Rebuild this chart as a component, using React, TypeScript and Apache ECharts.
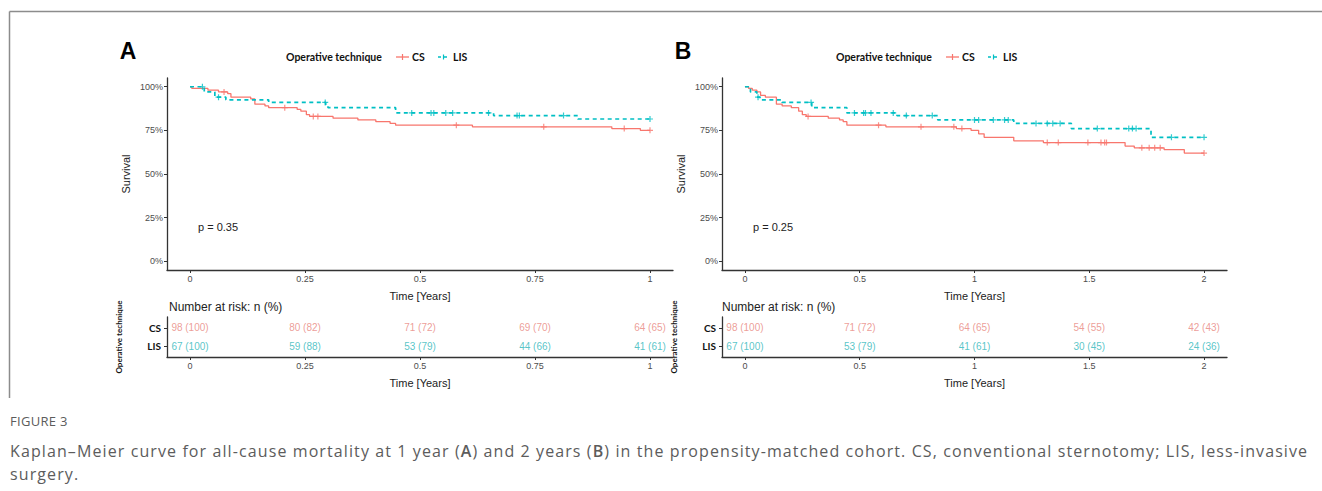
import React, { useEffect, useRef } from "react";
import * as echarts from "echarts";

// ---------- DATA ----------
// Panel A (1 year)
const csA_t = [0, 0.004, 0.039, 0.062, 0.082, 0.089, 0.132, 0.141, 0.163, 0.171, 0.233, 0.241, 0.253, 0.26, 0.311, 0.365, 0.404, 0.435, 0.447, 0.614, 0.917, 0.979, 1.0];
const csA_s = [1.0, 0.99, 0.98, 0.97, 0.96, 0.94, 0.93, 0.9, 0.89, 0.88, 0.87, 0.86, 0.84, 0.83, 0.82, 0.81, 0.8, 0.79, 0.78, 0.77, 0.76, 0.75, 0.75];
const csA_cens = [0.074, 0.206, 0.268, 0.278, 0.579, 0.769, 0.944, 1.0];
const lisA_t = [0, 0.031, 0.054, 0.078, 0.171, 0.295, 0.3, 0.447, 0.66, 0.843, 1.0];
const lisA_s = [1.0, 0.97, 0.94, 0.925, 0.91, 0.895, 0.88, 0.85, 0.835, 0.815, 0.815];
const lisA_cens = [0.027, 0.062, 0.294, 0.482, 0.524, 0.53, 0.556, 0.571, 0.649, 0.711, 0.716, 0.812, 1.0];

// Panel B (2 years)
const csB_t = [0, 0.016, 0.032, 0.052, 0.068, 0.089, 0.137, 0.162, 0.202, 0.234, 0.25, 0.267, 0.363, 0.412, 0.428, 0.444, 0.614, 0.921, 0.985, 1.018, 1.042, 1.171, 1.3, 1.656, 1.696, 1.826, 1.914, 2.0];
const csB_s = [1.0, 0.99, 0.98, 0.97, 0.95, 0.94, 0.9, 0.89, 0.88, 0.86, 0.84, 0.83, 0.82, 0.81, 0.8, 0.78, 0.77, 0.76, 0.75, 0.73, 0.71, 0.69, 0.68, 0.66, 0.65, 0.64, 0.62, 0.62];
const csB_cens = [0.275, 0.582, 0.767, 0.91, 0.945, 1.317, 1.365, 1.494, 1.551, 1.567, 1.575, 1.729, 1.761, 1.785, 1.809, 2.0];
const lisB_t = [0, 0.024, 0.052, 0.065, 0.162, 0.291, 0.444, 0.662, 0.84, 1.171, 1.422, 1.769, 2.0];
const lisB_s = [1.0, 0.97, 0.94, 0.925, 0.91, 0.88, 0.85, 0.835, 0.81, 0.79, 0.76, 0.71, 0.71];
const lisB_cens = [0.057, 0.288, 0.477, 0.517, 0.525, 0.549, 0.646, 0.703, 0.816, 1.0, 1.018, 1.082, 1.131, 1.147, 1.268, 1.317, 1.341, 1.373, 1.535, 1.672, 1.688, 1.704, 1.858, 2.0];

// Risk tables
const riskA_times = [0, 0.25, 0.5, 0.75, 1];
const riskA_cs = ["98 (100)", "80 (82)", "71 (72)", "69 (70)", "64 (65)"];
const riskA_lis = ["67 (100)", "59 (88)", "53 (79)", "44 (66)", "41 (61)"];
const riskB_times = [0, 0.5, 1, 1.5, 2];
const riskB_cs = ["98 (100)", "71 (72)", "64 (65)", "54 (55)", "42 (43)"];
const riskB_lis = ["67 (100)", "53 (79)", "41 (61)", "30 (45)", "24 (36)"];

const yTicks = [0, 0.25, 0.5, 0.75, 1];
const pValues = ["p = 0.35", "p = 0.25"];
const panelLetters = ["A", "B"];
const groups = ["CS", "LIS"];

const RED = "#F8766D";
const TEAL = "#00BFC4";
const RED_T = "#E8857D";
const TEAL_T = "#2DB6B9";
const AXIS = "#333333";
const TICKTXT = "#4d4d4d";
const PLUS = "path://M4,0H6V4H10V6H6V10H4V6H0V4H4Z";

function survAt(ts: number[], ss: number[], t: number) {
  let v = ss[0];
  for (let i = 0; i < ts.length; i++) if (ts[i] <= t) v = ss[i];
  return v;
}

function xAxisFor(grid: number, max: number, ticks: number[]) {
  const pad = max * 0.05;
  return {
    gridIndex: grid,
    type: "value",
    min: -pad,
    max: max + pad,
    axisLine: { show: true, onZero: false, lineStyle: { color: AXIS, width: 1.3 } },
    axisTick: { show: true, customValues: ticks, length: 3, lineStyle: { color: AXIS } },
    axisLabel: { customValues: ticks, formatter: (v: number) => String(v), fontSize: 9, color: TICKTXT, margin: 4, fontFamily: "Liberation Sans" },
    splitLine: { show: false },
    name: "Time [Years]",
    nameLocation: "middle",
    nameGap: 20,
    nameTextStyle: { fontSize: 11, color: "#222", fontFamily: "Liberation Sans" },
  };
}

function survYAxis(grid: number) {
  return {
    gridIndex: grid,
    type: "value",
    min: -0.05,
    max: 1.05,
    axisLine: { show: true, onZero: false, lineStyle: { color: AXIS, width: 1.3 } },
    axisTick: { show: true, customValues: yTicks, length: 3, lineStyle: { color: AXIS } },
    axisLabel: { customValues: yTicks, formatter: (v: number) => Math.round(v * 100) + "%", fontSize: 9, color: TICKTXT, margin: 4, fontFamily: "Liberation Sans" },
    splitLine: { show: false },
    name: "Survival",
    nameLocation: "middle",
    nameGap: 36,
    nameTextStyle: { fontSize: 11, color: "#222", fontFamily: "Liberation Sans" },
  };
}

function riskYAxis(grid: number) {
  return {
    gridIndex: grid,
    type: "value",
    min: 0.4,
    max: 2.6,
    axisLine: { show: true, onZero: false, lineStyle: { color: AXIS, width: 1.3 } },
    axisTick: { show: true, customValues: [1, 2], length: 3, lineStyle: { color: AXIS } },
    axisLabel: { customValues: [1, 2], formatter: (v: number) => (v === 2 ? groups[0] : groups[1]), fontSize: 10, fontWeight: "bold", color: "#111", margin: 6, fontFamily: "Lato" },
    splitLine: { show: false },
    name: "Operative technique",
    nameLocation: "middle",
    nameGap: 44,
    nameTextStyle: { fontSize: 8, fontWeight: "bold", color: "#111", fontFamily: "Lato" },
  };
}

function stepSeries(x: number, ts: number[], ss: number[], color: string, dashed: boolean) {
  return {
    type: "line",
    xAxisIndex: x,
    yAxisIndex: x,
    step: "end",
    symbol: "none",
    data: ts.map((t, i) => [t, ss[i]]),
    lineStyle: { color, width: dashed ? 1.7 : 1.3, type: dashed ? [4, 3.5] : "solid" },
    z: dashed ? 3 : 2,
  };
}

function censSeries(x: number, cens: number[], ts: number[], ss: number[], color: string) {
  return {
    type: "scatter",
    xAxisIndex: x,
    yAxisIndex: x,
    symbol: PLUS,
    symbolSize: 6,
    data: cens.map((t) => [t, survAt(ts, ss, t)]),
    itemStyle: { color },
    z: 4,
  };
}

function riskSeries(x: number, times: number[], labels: string[], row: number, color: string) {
  return {
    type: "scatter",
    xAxisIndex: x,
    yAxisIndex: x,
    symbolSize: 0,
    data: times.map((t, i) => [t, row, labels[i]]),
    label: {
      show: true,
      position: "inside",
      formatter: (p: any) => p.value[2],
      color,
      fontSize: 10,
      fontFamily: "Liberation Sans",
    },
  };
}

function legendGraphics(x0: number) {
  const y = 57;
  const txt = (x: number, s: string) => ({
    type: "text",
    x,
    y,
    style: { text: s, fontSize: 10.5, fontWeight: "bold", fill: "#111", fontFamily: "Lato", verticalAlign: "middle", textAlign: "left" },
  });
  return [
    txt(x0, "Operative technique"),
    { type: "line", shape: { x1: x0 + 110, y1: y, x2: x0 + 123, y2: y }, style: { stroke: RED, lineWidth: 1.3 } },
    { type: "line", shape: { x1: x0 + 116.5, y1: y - 3, x2: x0 + 116.5, y2: y + 3 }, style: { stroke: RED, lineWidth: 1.2 } },
    txt(x0 + 126, groups[0]),
    { type: "line", shape: { x1: x0 + 152, y1: y, x2: x0 + 163, y2: y }, style: { stroke: TEAL, lineWidth: 1.7, lineDash: [3, 3] } },
    { type: "line", shape: { x1: x0 + 157.5, y1: y - 2.5, x2: x0 + 157.5, y2: y + 2.5 }, style: { stroke: TEAL, lineWidth: 1.2 } },
    txt(x0 + 167, groups[1]),
  ];
}

const captionStyle: React.CSSProperties = {
  position: "absolute",
  left: 10,
  fontFamily: "'Open Sans', sans-serif",
  color: "#5c5c5c",
  whiteSpace: "nowrap",
  margin: 0,
};

export default function App() {
  const ref = useRef<HTMLDivElement>(null);
  useEffect(() => {
    if (!ref.current) return;
    const chart = echarts.init(ref.current, null, { renderer: "svg" });
    const option: any = {
      animation: false,
      backgroundColor: "#ffffff",
      grid: [
        { left: 167, top: 78, width: 506, height: 192, outerBoundsMode: "none" },
        { left: 722, top: 78, width: 505, height: 192, outerBoundsMode: "none" },
        { left: 167, top: 317, width: 506, height: 40, outerBoundsMode: "none" },
        { left: 722, top: 317, width: 505, height: 40, outerBoundsMode: "none" },
      ],
      xAxis: [
        xAxisFor(0, 1, riskA_times),
        xAxisFor(1, 2, riskB_times),
        xAxisFor(2, 1, riskA_times),
        xAxisFor(3, 2, riskB_times),
      ],
      yAxis: [survYAxis(0), survYAxis(1), riskYAxis(2), riskYAxis(3)],
      series: [
        stepSeries(0, csA_t, csA_s, RED, false),
        stepSeries(0, lisA_t, lisA_s, TEAL, true),
        censSeries(0, csA_cens, csA_t, csA_s, RED),
        censSeries(0, lisA_cens, lisA_t, lisA_s, TEAL),
        stepSeries(1, csB_t, csB_s, RED, false),
        stepSeries(1, lisB_t, lisB_s, TEAL, true),
        censSeries(1, csB_cens, csB_t, csB_s, RED),
        censSeries(1, lisB_cens, lisB_t, lisB_s, TEAL),
        riskSeries(2, riskA_times, riskA_cs, 2, RED_T),
        riskSeries(2, riskA_times, riskA_lis, 1, TEAL_T),
        riskSeries(3, riskB_times, riskB_cs, 2, RED_T),
        riskSeries(3, riskB_times, riskB_lis, 1, TEAL_T),
      ],
      graphic: [
        { type: "line", shape: { x1: 9.5, y1: 11.5, x2: 1322, y2: 11.5 }, style: { stroke: "#8c8c8c", lineWidth: 1.5 } },
        { type: "line", shape: { x1: 9.5, y1: 11.5, x2: 9.5, y2: 398 }, style: { stroke: "#8c8c8c", lineWidth: 1.5 } },
        { type: "text", x: 128, y: 51, style: { text: panelLetters[0], fontSize: 23, fontWeight: "bold", fill: "#000", fontFamily: "Liberation Sans", textAlign: "center", verticalAlign: "middle" } },
        { type: "text", x: 683, y: 51, style: { text: panelLetters[1], fontSize: 23, fontWeight: "bold", fill: "#000", fontFamily: "Liberation Sans", textAlign: "center", verticalAlign: "middle" } },
        ...legendGraphics(286),
        ...legendGraphics(836),
        { type: "text", x: 198, y: 227, style: { text: pValues[0], fontSize: 11, fill: "#222", fontFamily: "Liberation Sans", verticalAlign: "middle" } },
        { type: "text", x: 753, y: 227, style: { text: pValues[1], fontSize: 11, fill: "#222", fontFamily: "Liberation Sans", verticalAlign: "middle" } },
        { type: "text", x: 169, y: 307, style: { text: "Number at risk: n (%)", fontSize: 12, fill: "#222", fontFamily: "Liberation Sans", verticalAlign: "middle" } },
        { type: "text", x: 722, y: 307, style: { text: "Number at risk: n (%)", fontSize: 12, fill: "#222", fontFamily: "Liberation Sans", verticalAlign: "middle" } },
      ],
    };
    chart.setOption(option);
    return () => chart.dispose();
  }, []);
  return (
    <div style={{ position: "absolute", left: 0, top: 0, width: 1322, height: 491, background: "#fff" }}>
      <div ref={ref} style={{ position: "absolute", left: 0, top: 0, width: 1322, height: 491 }} />
      <div style={{ ...captionStyle, top: 412, fontSize: 13, lineHeight: "18px", letterSpacing: "0.3px" }}>FIGURE 3</div>
      <div style={{ ...captionStyle, top: 440, fontSize: 16, lineHeight: "22px", letterSpacing: "1.1px" }}>
        Kaplan{"\u2013"}Meier curve for all-cause mortality at 1 year (<b style={{ fontWeight: 600 }}>A</b>) and 2 years (<b style={{ fontWeight: 600 }}>B</b>) in the propensity-matched cohort. CS, conventional sternotomy; LIS, less-invasive
      </div>
      <div style={{ ...captionStyle, top: 463, fontSize: 16, lineHeight: "22px", letterSpacing: "1.1px" }}>surgery.</div>
    </div>
  );
}
